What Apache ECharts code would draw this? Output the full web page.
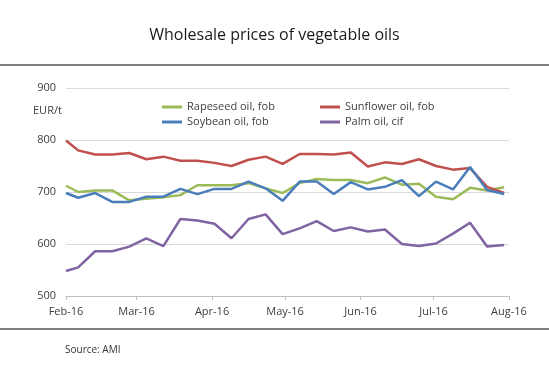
<!DOCTYPE html>
<html style="height: 100%">

<head>
    <meta charset="utf-8">
    <script src="https://cdn.jsdelivr.net/npm/echarts@6/dist/echarts.min.js"></script>
</head>

<body style="height: 100%; margin: 0; background: #fff">
    <div id="main" style="width: 549px;height:375px;"></div>
    <script type="text/javascript">
        // weekly quotes, EUR/t
        var dates = ['2016-02-01', '2016-02-06', '2016-02-13', '2016-02-20', '2016-02-27', '2016-03-05',
            '2016-03-12', '2016-03-19', '2016-03-26', '2016-04-02', '2016-04-09', '2016-04-16', '2016-04-23',
            '2016-04-30', '2016-05-07', '2016-05-14', '2016-05-21', '2016-05-28', '2016-06-04', '2016-06-11',
            '2016-06-18', '2016-06-25', '2016-07-02', '2016-07-09', '2016-07-16', '2016-07-23', '2016-07-30'];
        var rapeseed = [712, 700, 703, 703, 684, 687, 690, 694, 713, 713, 713, 717, 707, 698,
            717, 725, 723, 723, 717, 728, 714, 716, 691, 686, 708, 703, 709];
        var sunflower = [799, 780, 772, 772, 775, 763, 768, 760, 760, 756, 750, 762, 768, 754,
            773, 773, 772, 776, 749, 757, 754, 763, 750, 743, 746, 710, 698];
        var soybean = [698, 689, 698, 681, 681, 691, 691, 706, 696, 706, 706, 720, 707, 683,
            720, 720, 696, 719, 705, 710, 723, 692, 720, 705, 748, 704, 696];
        var palm = [548, 555, 586, 586, 595, 611, 596, 648, 645, 639, 611, 648, 657, 619,
            630, 644, 625, 632, 624, 628, 600, 596, 601, 620, 641, 595, 598];
        var monthNames = ['Jan', 'Feb', 'Mar', 'Apr', 'May', 'Jun', 'Jul', 'Aug', 'Sep', 'Oct', 'Nov', 'Dec'];

        function pairs(vals) {
            return vals.map(function (v, i) {
                return [dates[i], v];
            });
        }

        var font = 'Open Sans';
        var txt = '#404040';

        var myChart = echarts.init(document.getElementById('main'));
        myChart.setOption({
            animation: false,
            textStyle: { fontFamily: font },
            title: {
                text: 'Wholesale prices of vegetable oils',
                left: 'center',
                top: 22,
                textStyle: { fontFamily: font, fontSize: 16, fontWeight: 'normal', color: '#1a1a1a' }
            },
            legend: [{
                orient: 'vertical',
                left: 162,
                top: 101,
                padding: 0,
                itemWidth: 20,
                itemHeight: 3,
                itemGap: 3,
                icon: 'rect',
                data: ['Rapeseed oil, fob', 'Soybean oil, fob'],
                textStyle: { fontFamily: font, fontSize: 11, color: txt, lineHeight: 12 }
            }, {
                orient: 'vertical',
                left: 320,
                top: 101,
                padding: 0,
                itemWidth: 20,
                itemHeight: 3,
                itemGap: 3,
                icon: 'rect',
                data: ['Sunflower oil, fob', 'Palm oil, cif'],
                textStyle: { fontFamily: font, fontSize: 11, color: txt, lineHeight: 12 }
            }],
            grid: { left: 66, right: 40, top: 88, bottom: 79 },
            xAxis: {
                type: 'time',
                min: '2016-02-01',
                max: '2016-08-01',
                splitNumber: 6,
                axisLine: { lineStyle: { color: '#bfbfbf', width: 1 } },
                axisTick: { show: true, length: 4, lineStyle: { color: '#bfbfbf' } },
                splitLine: { show: false },
                axisLabel: {
                    margin: 10,
                    fontSize: 11,
                    color: txt,
                    fontFamily: font,
                    showMinLabel: true,
                    showMaxLabel: true,
                    formatter: function (v) {
                        var d = new Date(v);
                        return monthNames[d.getMonth()] + '-' + String(d.getFullYear()).slice(2);
                    }
                }
            },
            yAxis: {
                type: 'value',
                min: 500,
                max: 900,
                interval: 100,
                axisLine: { show: false },
                axisTick: { show: false },
                splitLine: { lineStyle: { color: '#d9d9d9', width: 1 } },
                axisLabel: { margin: 10, fontSize: 11, color: txt, fontFamily: font }
            },
            graphic: [{
                type: 'line',
                shape: { x1: 0, y1: 65, x2: 549, y2: 65 },
                style: { stroke: '#555', lineWidth: 1.5 }
            }, {
                type: 'line',
                shape: { x1: 0, y1: 329, x2: 549, y2: 329 },
                style: { stroke: '#555', lineWidth: 1.5 }
            }, {
                type: 'text',
                left: 33,
                top: 105,
                style: { text: 'EUR/t', font: '11px "Open Sans"', fill: txt }
            }, {
                type: 'text',
                left: 65,
                top: 345,
                style: { text: 'Source: AMI', font: '10px "Open Sans"', fill: '#333' }
            }],
            series: [{
                name: 'Rapeseed oil, fob',
                type: 'line',
                symbol: 'none',
                color: '#9bbb59',
                lineStyle: { width: 2.5 },
                data: pairs(rapeseed)
            }, {
                name: 'Sunflower oil, fob',
                type: 'line',
                symbol: 'none',
                color: '#c0504d',
                lineStyle: { width: 2.5 },
                data: pairs(sunflower)
            }, {
                name: 'Soybean oil, fob',
                type: 'line',
                symbol: 'none',
                color: '#4a7ebb',
                lineStyle: { width: 2.5 },
                data: pairs(soybean)
            }, {
                name: 'Palm oil, cif',
                type: 'line',
                symbol: 'none',
                color: '#8064a2',
                lineStyle: { width: 2.5 },
                data: pairs(palm)
            }]
        });
    </script>
</body>

</html>
